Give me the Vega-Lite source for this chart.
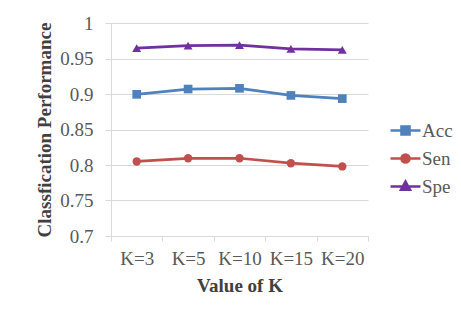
{
  "$schema": "https://vega.github.io/schema/vega-lite/v6.json",
  "autosize": {"type": "none"},
  "padding": {"left": 111, "top": 23, "right": 93, "bottom": 84},
  "width": 257,
  "height": 213,
  "background": "white",
  "config": {
    "view": {"stroke": null},
    "font": "Liberation Serif",
    "axis": {
      "labelFont": "Liberation Serif",
      "titleFont": "Liberation Serif",
      "labelFontSize": 19,
      "titleFontSize": 19,
      "labelColor": "#595959",
      "titleColor": "#404040",
      "titleFontWeight": "bold",
      "domainColor": "#d9d9d9",
      "tickColor": "#d9d9d9",
      "gridColor": "#d9d9d9",
      "domainWidth": 1,
      "tickWidth": 1,
      "gridWidth": 1
    },
    "legend": {
      "labelFont": "Liberation Serif",
      "labelFontSize": 19,
      "labelColor": "#595959"
    }
  },
  "data": {
    "values": [
      {"k": "K=3", "series": "Acc", "value": 0.8995},
      {"k": "K=5", "series": "Acc", "value": 0.907},
      {"k": "K=10", "series": "Acc", "value": 0.908},
      {"k": "K=15", "series": "Acc", "value": 0.898},
      {"k": "K=20", "series": "Acc", "value": 0.8935},
      {"k": "K=3", "series": "Sen", "value": 0.805},
      {"k": "K=5", "series": "Sen", "value": 0.8095},
      {"k": "K=10", "series": "Sen", "value": 0.8095},
      {"k": "K=15", "series": "Sen", "value": 0.8025},
      {"k": "K=20", "series": "Sen", "value": 0.798},
      {"k": "K=3", "series": "Spe", "value": 0.9645},
      {"k": "K=5", "series": "Spe", "value": 0.968},
      {"k": "K=10", "series": "Spe", "value": 0.969},
      {"k": "K=15", "series": "Spe", "value": 0.9635},
      {"k": "K=20", "series": "Spe", "value": 0.962}
    ]
  },
  "encoding": {
    "x": {
      "field": "k",
      "type": "nominal",
      "sort": ["K=3", "K=5", "K=10", "K=15", "K=20"],
      "scale": {"type": "band", "paddingInner": 0, "paddingOuter": 0},
      "axis": {
        "title": "Value of K",
        "labelFont": "Liberation Serif",
        "titleFont": "Liberation Serif",
        "labelAngle": 0,
        "tickBand": "extent",
        "tickSize": 5,
        "labelPadding": 8,
        "titlePadding": 8,
        "grid": false
      }
    },
    "y": {
      "field": "value",
      "type": "quantitative",
      "scale": {"domain": [0.7, 1], "nice": false, "zero": false},
      "axis": {
        "title": "Classfication Performance",
        "labelFont": "Liberation Serif",
        "titleFont": "Liberation Serif",
        "values": [0.7, 0.75, 0.8, 0.85, 0.9, 0.95, 1],
        "format": "~g",
        "tickSize": 6,
        "labelPadding": 12,
        "titlePadding": 5,
        "grid": true
      }
    },
    "color": {
      "field": "series",
      "type": "nominal",
      "scale": {"domain": ["Acc", "Sen", "Spe"], "range": ["#4f81bd", "#c0504d", "#7030a0"]},
      "legend": {
        "title": null,
        "orient": "none",
        "legendX": 278,
        "legendY": 91,
        "rowPadding": 1,
        "symbolSize": 900,
        "labelOffset": 0,
        "labelFont": "Liberation Serif",
        "encode": {
          "symbols": {
            "update": {
              "shape": {"signal": "datum.value === 'Acc' ? 'M-1,0H1M-0.27,-0.27H0.27V0.27H-0.27Z' : datum.value === 'Sen' ? 'M-1,0H1M0.27,0A0.27,0.27 0 1,1 -0.27,0A0.27,0.27 0 1,1 0.27,0Z' : 'M-1,0H1M0,-0.33L0.3,0.22H-0.3Z'"},
              "stroke": {"scale": "color", "field": "value"},
              "fill": {"scale": "color", "field": "value"},
              "strokeWidth": {"value": 2.5},
              "opacity": {"value": 1}
            }
          }
        }
      }
    }
  },
  "layer": [
    {
      "mark": {"type": "line", "strokeWidth": 2.75}
    },
    {
      "transform": [{"filter": "datum.series === 'Acc'"}],
      "mark": {"type": "point", "filled": true, "opacity": 1, "shape": "square", "size": 75}
    },
    {
      "transform": [{"filter": "datum.series === 'Sen'"}],
      "mark": {"type": "point", "filled": true, "opacity": 1, "shape": "circle", "size": 70}
    },
    {
      "transform": [{"filter": "datum.series === 'Spe'"}],
      "mark": {"type": "point", "filled": true, "opacity": 1, "shape": "triangle-up", "size": 80}
    }
  ]
}
